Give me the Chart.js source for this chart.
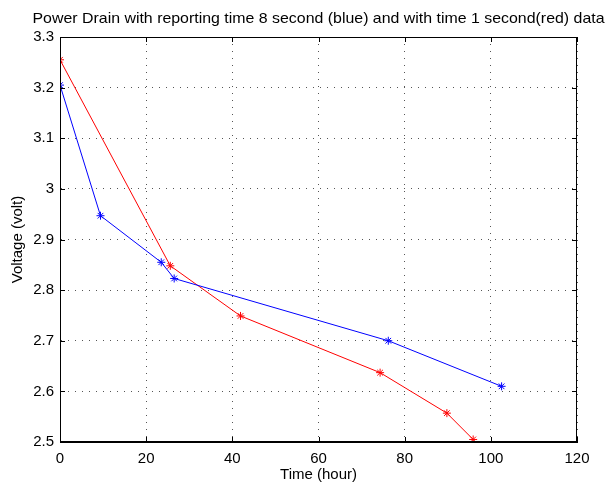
<!DOCTYPE html>
<html>
<head>
<meta charset="utf-8">
<script src="https://cdn.jsdelivr.net/npm/chart.js@4/dist/chart.umd.min.js"></script>
<style>
  html, body { margin: 0; padding: 0; background: #fff; }
  #wrap { width: 608px; height: 484px; }
</style>
</head>
<body>
<div id="wrap"><canvas id="drain" width="608" height="484"></canvas></div>
<script>
// Battery discharge: voltage over time for two reporting intervals
const blueTime = [0, 9.4, 23.5, 26.5, 76.2, 102.5];
const blueVolt = [3.205, 2.947, 2.855, 2.823, 2.700, 2.610];
const redTime = [0, 25.6, 41.9, 74.3, 89.8, 95.9];
const redVolt = [3.255, 2.848, 2.749, 2.637, 2.557, 2.505];

const xTicks = [0, 20, 40, 60, 80, 100, 120];
const yTicks = [2.5, 2.6, 2.7, 2.8, 2.9, 3.0, 3.1, 3.2, 3.3];
const yTickLabels = ['2.5', '2.6', '2.7', '2.8', '2.9', '3', '3.1', '3.2', '3.3'];

const chartTitle = 'Power Drain with reporting time 8 second (blue) and with time 1 second(red) data';

const FONT = 'Liberation Sans, Arial, Helvetica, sans-serif';

function toPoints(xs, ys) {
    return xs.map((x, i) => ({ x: x, y: ys[i] }));
}

// box around the axes, inward tick marks on all four sides, and the title
const matlabAxes = {
    id: 'matlabAxes',
    afterDraw(chart) {
        const { ctx, chartArea: a, scales } = chart;
        const len = 5;
        ctx.save();
        ctx.strokeStyle = '#000';
        ctx.lineWidth = 1;
        ctx.strokeRect(a.left + 0.5, a.top + 0.5, a.right - a.left - 1, a.bottom - a.top - 1);
        ctx.beginPath();
        xTicks.forEach(v => {
            const px = Math.round(scales.x.getPixelForValue(v)) + 0.5;
            ctx.moveTo(px, a.bottom);
            ctx.lineTo(px, a.bottom - len);
            ctx.moveTo(px, a.top);
            ctx.lineTo(px, a.top + len);
        });
        yTicks.forEach(v => {
            const py = Math.round(scales.y.getPixelForValue(v)) + 0.5;
            ctx.moveTo(a.left, py);
            ctx.lineTo(a.left + len, py);
            ctx.moveTo(a.right, py);
            ctx.lineTo(a.right - len, py);
        });
        ctx.stroke();

        // title: Helvetica-like glyphs run a little wide, so stretch horizontally
        ctx.fillStyle = '#000';
        ctx.font = '14.5px ' + FONT;
        ctx.textAlign = 'center';
        ctx.textBaseline = 'alphabetic';
        const w = ctx.measureText(chartTitle).width;
        const sx = 572 / w;
        ctx.translate((a.left + a.right) / 2, 23);
        ctx.scale(sx, 1);
        ctx.fillText(chartTitle, 0, 0);
        ctx.restore();
    }
};

new Chart(document.getElementById('drain'), {
    type: 'scatter',
    data: {
        datasets: [
            {
                label: 'blue',
                data: toPoints(blueTime, blueVolt),
                showLine: true,
                borderColor: '#0000ff',
                backgroundColor: '#0000ff',
                borderWidth: 1,
                pointStyle: 'star',
                pointRadius: 4,
                pointBorderWidth: 1
            },
            {
                label: 'red',
                data: toPoints(redTime, redVolt),
                showLine: true,
                borderColor: '#ff0000',
                backgroundColor: '#ff0000',
                borderWidth: 1,
                pointStyle: 'star',
                pointRadius: 4,
                pointBorderWidth: 1
            }
        ]
    },
    options: {
        responsive: false,
        animation: false,
        layout: { padding: { top: 37, right: 31, left: 0, bottom: 0 } },
        plugins: {
            legend: { display: false },
            tooltip: { enabled: false },
            title: { display: false }
        },
        scales: {
            x: {
                type: 'linear',
                min: 0,
                max: 120,
                afterBuildTicks: s => { s.ticks = xTicks.map(v => ({ value: v })); },
                afterFit: s => { s.height = 42; },
                ticks: {
                    color: '#000',
                    padding: 8,
                    maxRotation: 0,
                    font: { family: FONT, size: 15 },
                    callback: v => String(v)
                },
                grid: { color: '#555', lineWidth: 1, drawTicks: false },
                border: { display: true, color: '#000', width: 1, dash: [1, 6] },
                title: {
                    display: true,
                    text: 'Time (hour)',
                    color: '#000',
                    font: { family: FONT, size: 15 },
                    padding: { top: 0, bottom: 0 }
                }
            },
            y: {
                type: 'linear',
                min: 2.5,
                max: 3.3,
                afterBuildTicks: s => { s.ticks = yTicks.map(v => ({ value: v })); },
                afterFit: s => { s.width = 60; },
                ticks: {
                    color: '#000',
                    padding: 6,
                    font: { family: FONT, size: 15 },
                    callback: (v, i) => yTickLabels[i]
                },
                grid: { color: '#555', lineWidth: 1, drawTicks: false },
                border: { display: true, color: '#000', width: 1, dash: [1, 6] },
                title: {
                    display: true,
                    text: 'Voltage (volt)',
                    color: '#000',
                    font: { family: FONT, size: 15 },
                    padding: { top: 9, bottom: 0 }
                }
            }
        }
    },
    plugins: [matlabAxes]
});
</script>
</body>
</html>
